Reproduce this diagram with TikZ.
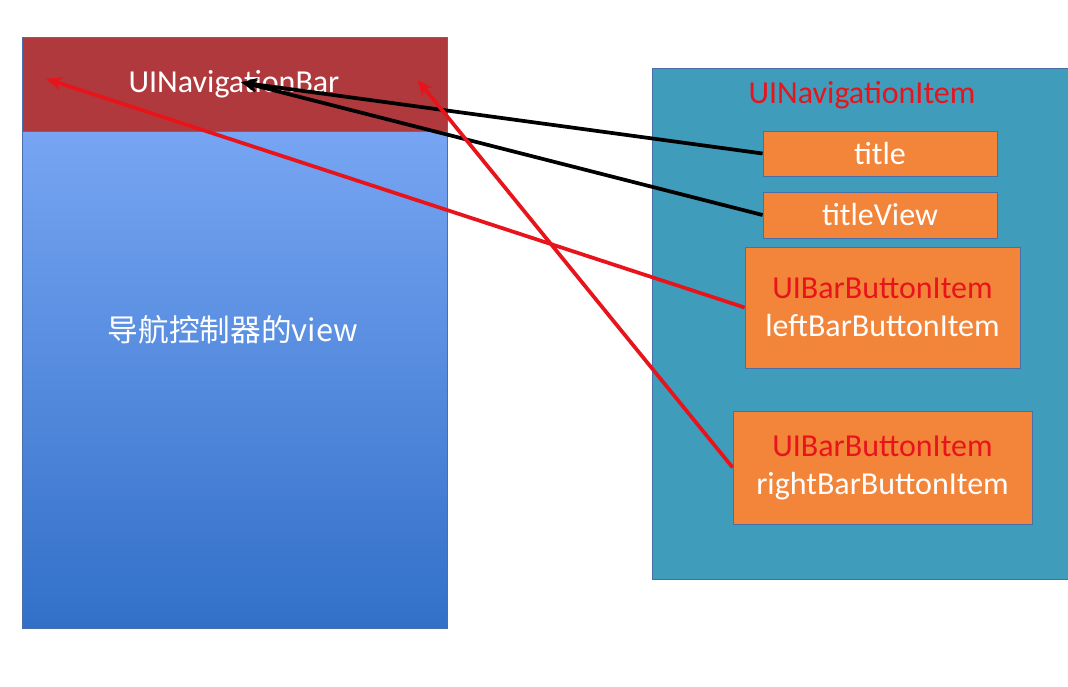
\documentclass[tikz,border=0pt]{standalone}
\usepackage{fontspec}
\setmainfont{Carlito}
\newfontfamily\cjk{Noto Sans CJK SC}
\usetikzlibrary{arrows,arrows.meta,shapes,positioning,calc}
\definecolor{barred}{HTML}{B0393D}
\definecolor{viewtop}{HTML}{84AFFB}
\definecolor{viewbot}{HTML}{3270C8}
\definecolor{itemteal}{HTML}{3F9CBA}
\definecolor{boxorange}{HTML}{F2853A}
\definecolor{txtred}{HTML}{E8141C}
\definecolor{edgeblue}{HTML}{4A6FA8}
\begin{document}
\begin{tikzpicture}[x=0.75pt,y=-0.75pt,>={Stealth[length=12pt,width=10pt]},
  font=\fontsize{24}{28.5}\selectfont,
  box/.style={draw=edgeblue,line width=0.6pt,fill=boxorange,text=white,
              align=center,inner sep=0pt},
  link/.style={->,line width=2.8pt,shorten >=-3pt}]
\useasboundingbox[fill=white] (0,0) rectangle (1068,686);
% left: the controller's view with its bar
\node[draw=edgeblue,line width=0.6pt,top color=viewtop,bottom color=viewbot,
      minimum width=318.75pt,minimum height=443.25pt,inner sep=0pt] (view) at (234.5,332.5) {};
\node[fill=barred,draw=edgeblue,line width=0.6pt,minimum width=318.75pt,
      minimum height=70.5pt,inner sep=0pt] (bar) at (234.5,84) {};
\node[text=white] (bartext) at (234,84) {UINavigationBar};
\node[text=white,font=\cjk\fontsize{23}{28}\selectfont] (viewtext) at (233,330) {导航控制器的view};
% right: the navigation item
\node[fill=itemteal,draw=edgeblue,line width=0.6pt,minimum width=315pt,
      minimum height=383.25pt,inner sep=0pt] (item) at (862,323.5) {};
\node[text=txtred] (itemtext) at (862,95) {UINavigationItem};
\node[box,minimum width=175.5pt,minimum height=33.75pt] (title) at (880,153.5) {title};
\node[box,minimum width=175.5pt,minimum height=34.5pt] (tview) at (880,215) {titleView};
\node[box,minimum width=206.25pt,minimum height=90.75pt] (left) at (882.5,307.5)
  {\textcolor{txtred}{UIBarButtonItem}\\leftBarButtonItem};
\node[box,minimum width=224.25pt,minimum height=84.75pt] (right) at (882.5,467.5)
  {\textcolor{txtred}{UIBarButtonItem}\\rightBarButtonItem};
% targets inside the bar
\coordinate (pmid) at (245,83);
\coordinate (pleft) at (50,80);
\coordinate (pright) at (420,83);
\draw[link,black] (title.west) -- (pmid);
\draw[link,black] (tview.west) -- (pmid);
\draw[link,txtred] (left.west) -- (pleft);
\draw[link,txtred] (right.west) -- (pright);
\end{tikzpicture}
\end{document}
